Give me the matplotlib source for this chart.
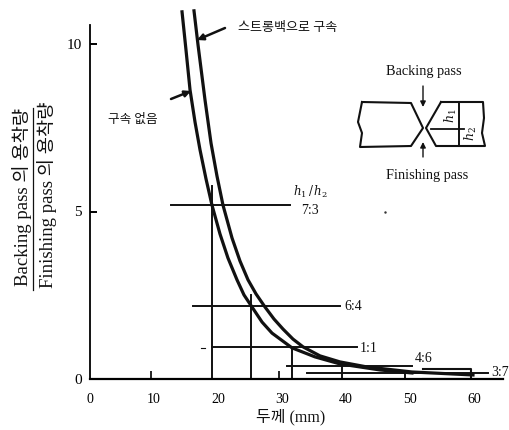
import matplotlib
matplotlib.use("Agg")
import matplotlib.pyplot as plt

FONT = ['Liberation Serif', 'Noto Sans CJK KR', 'DejaVu Sans']
plt.rcParams['font.family'] = FONT
plt.rcParams['mathtext.fontset'] = 'dejavuserif'

# Curves
clamped_x = [16.25, 16.88, 17.97, 18.91, 19.84, 20.78, 22.19, 23.44, 24.69, 25.94, 27.34, 28.75, 30.16, 31.72, 33.28, 35.94, 39.06, 43.28, 50.31, 59.84]
clamped_y = [10.99, 9.97, 8.33, 7.04, 6.06, 5.19, 4.21, 3.52, 2.96, 2.54, 2.15, 1.79, 1.49, 1.19, 0.96, 0.69, 0.51, 0.36, 0.21, 0.12]
free_x = [14.38, 15.0, 15.63, 16.41, 17.19, 18.13, 19.06, 20.31, 21.56, 22.97, 24.06, 25.31, 26.88, 28.44, 31.56, 35.16, 39.06, 45.31, 50.31]
free_y = [10.96, 9.82, 8.63, 7.67, 6.84, 5.97, 5.19, 4.33, 3.61, 2.96, 2.51, 2.15, 1.70, 1.37, 0.93, 0.66, 0.45, 0.27, 0.18]

# Ratio guide lines: label, level, start, end, thickness marker
ratios = ['7:3', '6:4', '1:1', '4:6', '3:7']
levels = [5.2, 2.18, 0.97, 0.39, 0.18]
line_start = [12.7, 16.1, 19.0, 30.8, 33.9]
line_end = [31.2, 39.0, 41.7, 50.3, 62.2]
thickness = [19.0, 25.2, 31.6, 39.3, 49.2]
stem_top = [5.75, 2.5, 0.97, 0.39, 0.18]

x_ticks = [0, 10, 20, 30, 40, 50, 60]
y_ticks = [0, 5, 10]

W, H = 510, 430
fig = plt.figure(figsize=(W / 100, H / 100), dpi=100)
L, R, T, B = 90, 503, 25, 379
ax = fig.add_axes([L / W, 1 - B / H, (R - L) / W, (B - T) / H])
ax.set_xlim(0, (R - L) / 6.4)
ax.set_ylim(0, (B - T) / 33.5)
for s in ('top', 'right'):
    ax.spines[s].set_visible(False)
ax.spines['left'].set_linewidth(1.3)
ax.spines['bottom'].set_linewidth(1.6)

ax.plot(clamped_x, clamped_y, color='#111111', lw=2.3, clip_on=False, solid_joinstyle='round')
ax.plot(free_x, free_y, color='#111111', lw=2.3, clip_on=False, solid_joinstyle='round')

for lv, a, b, t, top in zip(levels, line_start, line_end, thickness, stem_top):
    ax.plot([a, b], [lv, lv], color='#111111', lw=1.4)
    ax.plot([t, t], [0, top], color='#111111', lw=1.4)
ax.plot([52, 59.5, 59.5, 52], [0.3, 0.3, 0.0, 0.0], color='#111111', lw=1.5)

ax.set_xticks(x_ticks)
ax.set_xticklabels([str(v) for v in x_ticks], fontsize=10)
ax.set_yticks(y_ticks)
ax.set_yticklabels([str(v) for v in y_ticks], fontsize=11)
ax.tick_params(axis='x', length=0, pad=10)
ax.tick_params(axis='y', direction='in', length=5, width=1.4, pad=6)
ax.set_xticks([9.5, 29.5], minor=True)
ax.tick_params(axis='x', which='minor', direction='in', length=6, width=1.2)

# Overlay in image pixels for annotations and the joint sketch
ov = fig.add_axes([0, 0, 1, 1])
ov.set_xlim(0, W)
ov.set_ylim(H, 0)
ov.axis('off')
ov.patch.set_alpha(0)


def txt(x, y, s, size=8.5, **kw):
    kw.setdefault('ha', 'center')
    kw.setdefault('va', 'center')
    ov.text(x, y, s, fontsize=size, family=kw.pop('family', FONT), color='#111111', **kw)


def arrow(x0, y0, x1, y1, lw=1.2, scale=9):
    ov.annotate('', xy=(x1, y1), xytext=(x0, y0),
                arrowprops=dict(arrowstyle='-|>', lw=lw, color='#111111', mutation_scale=scale,
                                shrinkA=0, shrinkB=0))


txt(22, 197, 'Backing pass 의 용착량', 13.5, rotation=90)
txt(47, 195, 'Finishing pass 의 용착량', 13.5, rotation=90)
ov.plot([33, 33], [108, 290], color='#111111', lw=0.9)
txt(291, 417, '두께 (mm)', 11.5)

txt(288, 28, '스트롱백으로 구속', 9.4)
arrow(225, 28, 197, 40, lw=1.8)
txt(133, 120, '구속 없음', 9.1)
arrow(171, 99, 191, 91, lw=1.8)

txt(310, 192, r'$h_1\,/\,h_2$', 8.5)
txt(310, 211, '7:3', 10)
txt(353, 306, '6:4', 10)
txt(369, 348, '1:1', 10)
txt(424, 359, '4:6', 10)
txt(500, 372, '3:7', 10)
ov.plot([201, 205], [348, 348], color='#111111', lw=0.8)
ov.plot([385], [212], marker='.', ms=1.5, color='#333333')

# Joint sketch
plate_l_x = [362, 411, 423, 411, 360, 362, 358, 362]
plate_l_y = [102, 103, 128, 146, 147, 133, 122, 102]
plate_r_x = [441, 483, 484, 482, 485, 436, 426, 441]
plate_r_y = [102, 102, 118, 133, 146, 146, 128, 102]
ov.plot(plate_l_x, plate_l_y, color='#111111', lw=1.5)
ov.plot(plate_r_x, plate_r_y, color='#111111', lw=1.5)
ov.plot([459, 459], [103, 146], color='#111111', lw=1.4)
ov.plot([431, 464], [129, 129], color='#111111', lw=1.3)
txt(451, 116, r'$h_1$', 9, rotation=90, fontweight='bold')
txt(471, 134, r'$h_2$', 9, rotation=90, fontweight='bold')
arrow(423, 86, 423, 107, lw=1.0, scale=8)
arrow(423, 157, 423, 142, lw=1.0, scale=8)
txt(424, 72, 'Backing pass', 10.3)
txt(427, 175, 'Finishing pass', 10.3)

fig.savefig('out.png', dpi=100)
